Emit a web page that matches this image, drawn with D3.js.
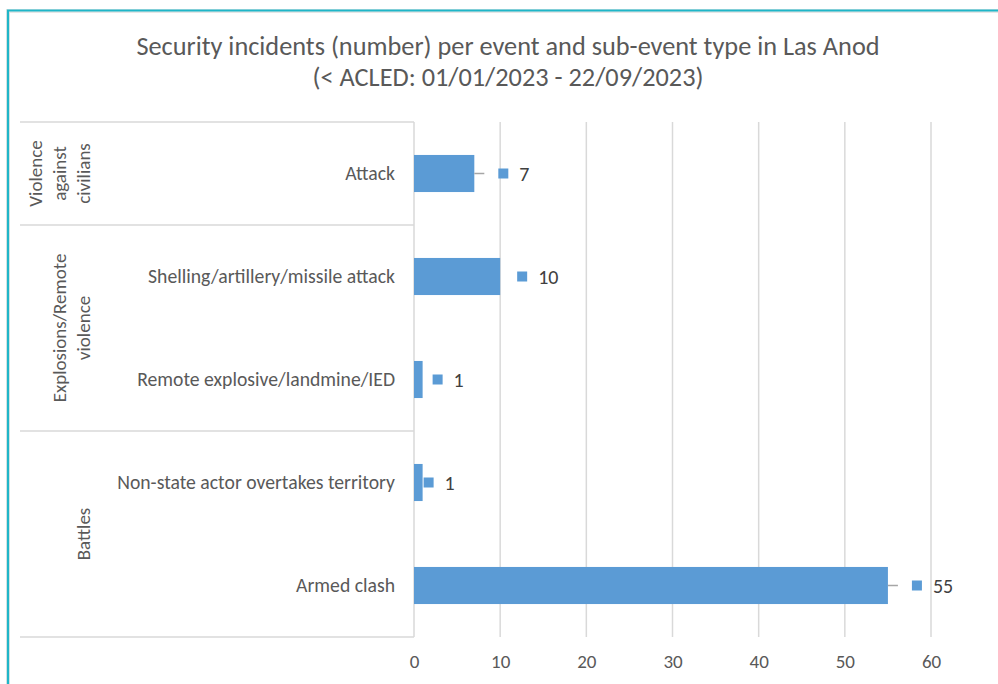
<!DOCTYPE html>
<html>
<meta charset="utf-8">
<style>
body { margin: 0; background: #fff; }
svg text { font-family: Carlito, Lato, "Liberation Sans", sans-serif; }
.grid line { stroke: #d9d9d9; stroke-width: 1.5px; }
.sep { stroke: #d9d9d9; stroke-width: 1.5px; }
</style>
<body>
<svg id="chart" width="998" height="684"></svg>
<script src="https://cdn.jsdelivr.net/npm/d3@7"></script>
<script>
// data, top to bottom as drawn
var groups = ["Violence against civilians", "Explosions/Remote violence", "Battles"];
var groupLines = [["Violence", "against", "civilians"], ["Explosions/Remote", "violence"], ["Battles"]];
var subTypes = ["Attack", "Shelling/artillery/missile attack", "Remote explosive/landmine/IED",
                "Non-state actor overtakes territory", "Armed clash"];
var subGroup = [0, 1, 1, 2, 2];
var counts = [7, 10, 1, 1, 55];
var xTicks = [0, 10, 20, 30, 40, 50, 60];

// labels were dragged by hand in the original, so each one sits at its own distance
var labelGap = [29, 22, 15, 6, 29];
var showLeader = [true, false, false, false, true];

var svg = d3.select("#chart");
var W = 998, H = 684;
var blue = "#5b9bd5", txt = "#595959";

// frame
svg.append("rect").attr("x", 8).attr("y", 11).attr("width", W).attr("height", H)
  .attr("fill", "none").attr("stroke", "#e6e6e6").attr("stroke-width", 4);
svg.append("path").attr("d", "M8," + H + "V10.5H" + W)
  .attr("fill", "none").attr("stroke", "#1fb6c8").attr("stroke-width", 2.2);

// title
var title = svg.append("text").attr("text-anchor", "middle").attr("fill", txt)
  .style("font-size", "26.3px").style("font-weight", 300);
title.append("tspan").attr("x", 508).attr("y", 55).text("Security incidents (number) per event and sub-event type in Las Anod");
title.append("tspan").attr("x", 508).attr("y", 86).text("(< ACLED: 01/01/2023 - 22/09/2023)");

var plotL = 414, plotT = 122, plotB = 637;

var x = d3.scaleLinear().domain([0, 60]).range([plotL, 931]);
var y = d3.scaleBand().domain(subTypes).range([plotT, plotB]).paddingInner(0.64).paddingOuter(0.32);

// gridlines
svg.append("g").attr("class", "grid")
  .selectAll("line").data(xTicks.slice(1)).enter().append("line")
  .attr("x1", function(d) { return x(d); }).attr("x2", function(d) { return x(d); })
  .attr("y1", plotT).attr("y2", plotB);

// x tick labels
var xAxis = svg.append("g").attr("transform", "translate(0," + (plotB + 4) + ")")
  .call(d3.axisBottom(x).tickValues(xTicks).tickSize(0).tickPadding(14));
xAxis.select(".domain").remove();
xAxis.selectAll("text").attr("fill", txt).style("font-size", "19px")
  .style("font-family", "Carlito, Lato, 'Liberation Sans', sans-serif");

// category axis lines and group separators
var step = y.step();
var bounds = [0];
subGroup.forEach(function(g, i) { if (i > 0 && g !== subGroup[i - 1]) bounds.push(i); });
bounds.push(subTypes.length);
svg.selectAll("line.sep").data(bounds).enter().append("line").attr("class", "sep")
  .attr("x1", 20).attr("x2", plotL)
  .attr("y1", function(d) { return plotT + d * step; }).attr("y2", function(d) { return plotT + d * step; });
svg.append("line").attr("class", "sep").attr("x1", plotL).attr("x2", plotL).attr("y1", plotT).attr("y2", plotB);

// sub-event labels
svg.selectAll("text.cat").data(subTypes).enter().append("text").attr("class", "cat")
  .attr("x", 395).attr("y", function(d) { return y(d) + y.bandwidth() / 2; })
  .attr("dy", "0.35em").attr("text-anchor", "end").attr("fill", txt).style("font-size", "19.7px")
  .text(function(d) { return d; });

// event type labels, rotated, lines stacked from the right
groups.forEach(function(g, gi) {
  var first = bounds[gi], last = bounds[gi + 1];
  var cy = plotT + (first + last) / 2 * step;
  var lines = groupLines[gi];
  var t = svg.append("text").attr("transform", "translate(0," + cy + ") rotate(-90)")
    .attr("text-anchor", "middle").attr("fill", txt).style("font-size", "19px");
  lines.forEach(function(l, li) {
    var cx = 83 - (lines.length - 1 - li) * 24;
    t.append("tspan").attr("x", 0).attr("y", cx).attr("dy", "0.35em").text(l);
  });
});

// bars
svg.selectAll("rect.bar").data(counts).enter().append("rect").attr("class", "bar")
  .attr("x", x(0)).attr("y", function(d, i) { return y(subTypes[i]); })
  .attr("width", function(d) { return x(d) - x(0); }).attr("height", y.bandwidth())
  .attr("fill", blue);

// data labels with legend key
var lab = svg.selectAll("g.lab").data(counts).enter().append("g").attr("class", "lab")
  .attr("transform", function(d, i) {
    return "translate(" + (x(d) + labelGap[i]) + "," + (y(subTypes[i]) + y.bandwidth() / 2) + ")";
  });
lab.each(function(d, i) {
  if (!showLeader[i]) return;
  d3.select(this).append("line").attr("x1", -labelGap[i]).attr("x2", -labelGap[i] + 10)
    .attr("stroke", "#a6a6a6").attr("stroke-width", 1.5);
});
lab.append("rect").attr("x", -5).attr("y", -5).attr("width", 10).attr("height", 10)
  .attr("fill", blue);
lab.append("text").attr("x", 16).attr("dy", "0.35em").attr("fill", "#404040")
  .style("font-size", "20px").text(function(d) { return d; });
</script>
</body>
</html>
